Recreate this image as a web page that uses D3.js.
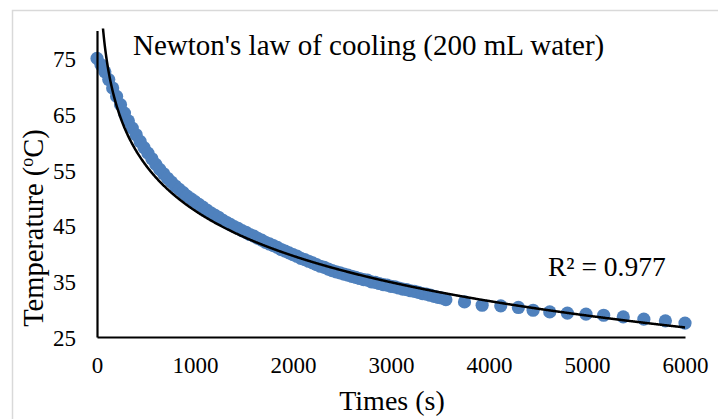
<!DOCTYPE html>
<html>
<head>
<meta charset="utf-8">
<script src="https://cdn.jsdelivr.net/npm/d3@7/dist/d3.min.js"></script>
<style>
  html, body { margin: 0; padding: 0; background: #ffffff; }
  svg { display: block; }
  text { font-family: "Liberation Serif", "Times New Roman", serif; fill: #000; }
</style>
</head>
<body>
<svg id="chart" width="718" height="419"></svg>
<script>
// ---------- data ----------
const timesS = [
  0, 40, 80, 120, 160, 200, 240, 280, 320, 360,
  400, 440, 480, 520, 560, 600, 640, 680, 720, 760,
  800, 840, 880, 920, 960, 1000, 1040, 1080, 1120, 1160,
  1200, 1240, 1280, 1320, 1360, 1400, 1440, 1480, 1520, 1560,
  1600, 1640, 1680, 1720, 1760, 1800, 1840, 1880, 1920, 1960,
  2000, 2040, 2080, 2120, 2160, 2200, 2240, 2280, 2320, 2360,
  2400, 2440, 2480, 2520, 2560, 2600, 2640, 2680, 2720, 2760,
  2800, 2840, 2880, 2920, 2960, 3000, 3040, 3080, 3120, 3160,
  3200, 3240, 3280, 3320, 3360, 3400, 3440, 3480, 3520, 3560,
  3750, 3930, 4120, 4300, 4450, 4620, 4800, 4990, 5170, 5370, 5580, 5800, 6000
];
const tempsC = [
  75.0, 73.9, 72.6, 71.2, 69.7, 68.2, 66.7, 65.2, 63.8, 62.5,
  61.3, 60.1, 59.0, 58.0, 57.0, 56.0, 55.1, 54.3, 53.5, 52.8,
  52.1, 51.5, 50.9, 50.3, 49.8, 49.3, 48.8, 48.3, 47.8, 47.3,
  46.9, 46.5, 46.0, 45.6, 45.2, 44.8, 44.5, 44.1, 43.8, 43.4,
  43.1, 42.7, 42.4, 42.0, 41.7, 41.4, 41.1, 40.7, 40.4, 40.1,
  39.8, 39.5, 39.1, 38.9, 38.6, 38.3, 38.0, 37.7, 37.5, 37.2,
  36.9, 36.7, 36.5, 36.3, 36.1, 35.9, 35.7, 35.5, 35.3, 35.2,
  34.9, 34.8, 34.6, 34.4, 34.3, 34.1, 34.0, 33.8, 33.6, 33.5,
  33.3, 33.2, 33.0, 32.8, 32.7, 32.5, 32.3, 32.1, 32.0, 31.7,
  31.3, 30.7, 30.6, 30.3, 29.8, 29.5, 29.3, 29.1, 28.9, 28.6, 28.2, 27.9, 27.5
];
const xTicks = [0, 1000, 2000, 3000, 4000, 5000, 6000];
const yTicks = [25, 35, 45, 55, 65, 75];
// logarithmic trendline  y = a ln(x) + b
const trendA = -11.7;
const trendB = 128.5;
const titleText = "Newton's law of cooling (200 mL water)";
const xTitle = "Times (s)";
const r2Text = "R\u00B2 = 0.977";

// ---------- drawing ----------
const svg = d3.select("#chart");
svg.append("rect").attr("x", 0).attr("y", 0).attr("width", 718).attr("height", 419).attr("fill", "#fff");
// outer chart frame
svg.append("rect")
  .attr("x", 12.5).attr("y", 10.5).attr("width", 740).attr("height", 440)
  .attr("fill", "none").attr("stroke", "#d9d9d9").attr("stroke-width", 1.5);

const x = d3.scaleLinear().domain([0, 6000]).range([97, 685]);
const y = d3.scaleLinear().domain([25, 80]).range([337, 30.6]);

svg.append("defs").append("clipPath").attr("id", "plotclip")
  .append("rect").attr("x", 90).attr("y", y(80) - 2).attr("width", 610).attr("height", y(25) - y(80) + 12);

const pts = timesS.map((t, i) => ({ t: t, v: tempsC[i] }));

// markers
svg.append("g").selectAll("circle").data(pts).join("circle")
  .attr("cx", d => x(d.t)).attr("cy", d => y(d.v)).attr("r", 6.6)
  .attr("fill", "#4F81BD");

// trendline
const tr = d3.range(40, 6000.1, 5).map(t => ({ t: t, v: trendA * Math.log(t) + trendB }));
svg.append("path").datum(tr)
  .attr("clip-path", "url(#plotclip)")
  .attr("fill", "none").attr("stroke", "#000").attr("stroke-width", 2.5)
  .attr("d", d3.line().x(d => x(d.t)).y(d => y(d.v)));

// axes
const yAxis = svg.append("g").attr("transform", "translate(97,0)")
  .call(d3.axisLeft(y).tickValues(yTicks).tickSize(0).tickPadding(21).tickFormat(d3.format("d")));
const xAxis = svg.append("g").attr("transform", "translate(0,337)")
  .call(d3.axisBottom(x).tickValues(xTicks).tickSize(0).tickPadding(20).tickFormat(d3.format("d")));
[yAxis, xAxis].forEach(g => {
  g.select(".domain").attr("stroke", "#000").attr("stroke-width", 2.2);
  g.selectAll("text").style("font-family", "'Liberation Serif', 'Times New Roman', serif")
    .style("font-size", "23px").attr("fill", "#000");
});
yAxis.selectAll("text").attr("dy", "0.36em");

// title
svg.append("text").attr("x", 133).attr("y", 55)
  .style("font-size", "29px").text(titleText);

// R squared label
svg.append("text").attr("x", 548).attr("y", 276)
  .style("font-size", "27.5px").text(r2Text);

// x axis title
svg.append("text").attr("x", 392).attr("y", 410).attr("text-anchor", "middle")
  .style("font-size", "28px").text(xTitle);

// y axis title
const yt = svg.append("text")
  .attr("transform", "translate(43,228) rotate(-90)")
  .attr("text-anchor", "middle").style("font-size", "28.5px");
yt.append("tspan").text("Temperature (");
yt.append("tspan").attr("baseline-shift", "super").style("font-size", "18px").text("o");
yt.append("tspan").text("C)");
</script>
</body>
</html>
